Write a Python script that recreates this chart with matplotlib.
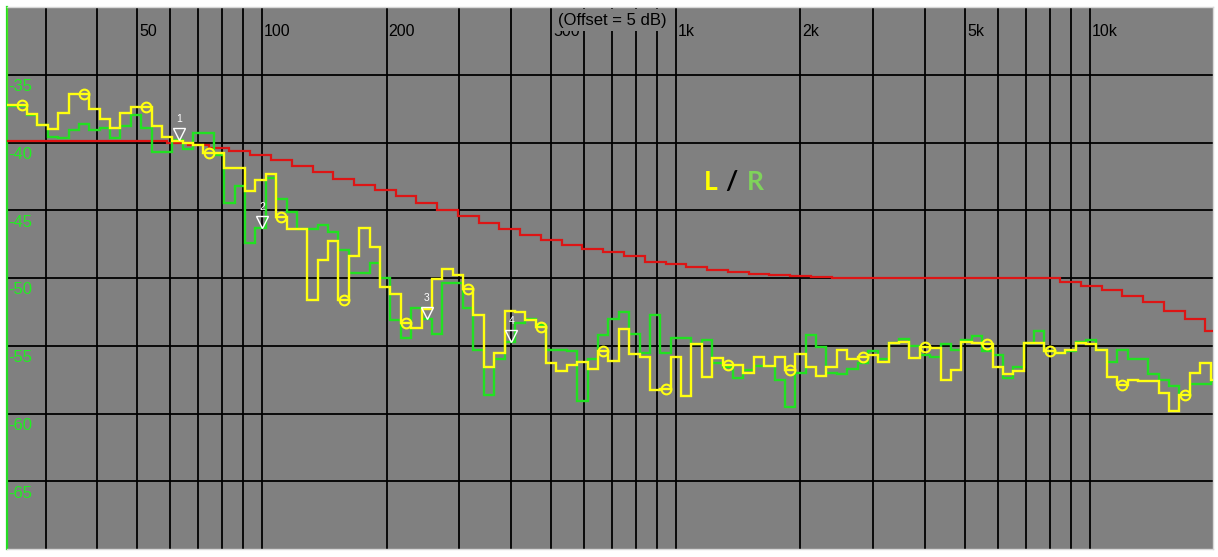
import numpy as np
import matplotlib
matplotlib.use('Agg')
import matplotlib.pyplot as plt
from matplotlib import transforms
from matplotlib.ticker import NullLocator

# ---------------- data ----------------
# 1/12-octave band numbers relative to 1 kHz (center = 1000 * 2**(n/12))
band_start = -64
left_db = [
    -37.2, -37.2, -37.9, -38.7, -39.0, -37.8, -36.4, -36.4, -37.5, -38.3,
    -38.9, -37.8, -37.4, -37.4, -38.8, -39.6, -39.9, -40.0, -40.2, -40.8,
    -40.8, -41.9, -41.9, -43.6, -42.8, -42.3, -45.5, -46.4, -46.4, -51.6,
    -48.7, -47.3, -51.6, -48.4, -46.3, -47.7, -50.7, -51.2, -53.3, -53.7,
    -52.3, -50.1, -49.3, -49.8, -50.8, -52.7, -56.6, -55.5, -52.4, -52.5,
    -53.1, -53.6, -56.3, -56.9, -56.4, -56.2, -56.7, -55.4, -56.1, -53.8,
    -55.6, -55.8, -58.3, -58.2, -55.8, -58.7, -54.9, -57.3, -55.9, -56.4,
    -56.4, -57.0, -55.8, -56.5, -55.8, -56.8, -55.6, -56.6, -57.2, -56.6,
    -55.3, -56.0, -55.8, -55.7, -56.2, -54.8, -54.7, -55.9, -55.1, -55.2,
    -57.5, -56.8, -54.7, -54.8, -54.9, -56.6, -57.1, -56.9, -54.8, -54.8,
    -55.4, -55.5, -55.3, -54.8, -54.9, -55.3, -57.3, -57.9, -57.5, -57.6,
    -57.6, -58.5, -59.8, -58.6, -57.0, -56.3, -57.5,
]
right_db = [
    -37.3, -37.3, -38.0, -38.7, -39.6, -39.7, -39.1, -38.6, -39.1, -38.9,
    -39.7, -38.8, -38.0, -38.9, -40.7, -40.7, -39.8, -40.5, -39.3, -39.3,
    -40.9, -44.5, -43.2, -47.4, -46.3, -42.6, -44.2, -45.1, -46.4, -46.4,
    -46.1, -46.6, -47.9, -49.6, -49.6, -48.9, -50.0, -53.1, -54.4, -52.2,
    -53.0, -54.1, -50.4, -50.4, -52.2, -55.3, -58.6, -56.0, -54.7, -53.3,
    -53.0, -53.5, -55.3, -55.3, -55.4, -59.1, -56.0, -54.2, -53.0, -52.5,
    -54.1, -55.5, -52.7, -55.5, -54.4, -54.4, -54.9, -54.6, -56.3, -56.6,
    -57.4, -56.8, -56.5, -56.5, -57.5, -59.5, -57.0, -54.2, -55.1, -57.0,
    -57.1, -56.7, -56.3, -55.4, -56.0, -54.8, -54.5, -55.0, -55.7, -55.8,
    -54.9, -55.3, -54.6, -54.3, -55.4, -55.7, -57.4, -56.6, -54.8, -53.9,
    -55.4, -55.5, -55.4, -54.7, -54.6, -55.3, -56.2, -55.3, -56.0, -56.0,
    -57.1, -57.5, -58.0, -58.6, -57.8, -57.8, -57.6,
]
# 1/6-octave target curve, band j centered at 1000 * 2**(j/6)
target_start = -32
target_db = [
    -39.9, -39.9, -39.9, -39.9, -39.9, -39.9, -39.9, -39.9,
    -40.05, -40.2, -40.4, -40.6, -40.9, -41.3, -41.7, -42.2, -42.7, -43.1,
    -43.5, -43.95, -44.45, -45.0, -45.45, -45.95, -46.4, -46.8, -47.2,
    -47.55, -47.85, -48.1, -48.4, -48.8, -49.0, -49.2, -49.4, -49.55,
    -49.7, -49.8, -49.85, -49.9,
    -50.0, -50.0, -50.0, -50.0, -50.0, -50.0, -50.0, -50.0, -50.0, -50.0, -50.0,
    -50.3, -50.6, -50.9, -51.3, -51.8, -52.4, -53.0, -53.9,
]
circle_bands = [-63, -57, -51, -45, -38, -32, -26, -20, -13, -7, -1, 5, 11,
                18, 24, 30, 36, 43, 49]
marker_freqs = [63, 100, 250, 400]
marker_labels = ['1', '2', '3', '4']

grid_freqs = [30, 40, 50, 60, 70, 80, 90, 100, 200, 300, 400, 500, 600, 700,
              800, 900, 1000, 2000, 3000, 4000, 5000, 6000, 7000, 8000, 9000,
              10000]
xlabel_freqs = [50, 100, 200, 500, 1000, 2000, 5000, 10000]
xlabel_texts = ['50', '100', '200', '500', '1k', '2k', '5k', '10k']
ylabel_values = [-35, -40, -45, -50, -55, -60, -65]

# ---------------- figure ----------------
W, H = 1218, 557
fig = plt.figure(figsize=(W / 100, H / 100), dpi=100)
fig.patch.set_facecolor('white')
ax = fig.add_axes([7 / W, 8 / H, 1206 / W, 542 / H])
ax.set_facecolor('#808080')
ax.set_xscale('log')
ax.set_xlim(24.2, 19850)
ax.set_ylim(-70, -30)

ax.set_xticks(grid_freqs)
ax.xaxis.set_minor_locator(NullLocator())
ax.set_yticks(ylabel_values)
ax.tick_params(length=0, labelbottom=False, labelleft=False)
ax.grid(True, color='black', lw=1.3)
ax.set_axisbelow(True)

for s in ['top', 'right', 'bottom']:
    ax.spines[s].set_color('#d8d8d8')
    ax.spines[s].set_linewidth(1.0)
ax.spines['left'].set_color('#22dd22')
ax.spines['left'].set_linewidth(1.6)

n = np.arange(band_start, band_start + len(left_db))
edges = 1000.0 * 2.0 ** ((np.arange(band_start, band_start + len(left_db) + 1) - 0.5) / 12)
centers = 1000.0 * 2.0 ** (n / 12)
jt = np.arange(target_start, target_start + len(target_db) + 1)
t_edges = 1000.0 * 2.0 ** ((2 * jt - 1) / 12)

ax.stairs(target_db, t_edges, color='#dd1515', lw=1.6, zorder=3)
ax.stairs(right_db, edges, color='#22e022', lw=1.7, zorder=4)
ax.stairs(left_db, edges, color='#ffff10', lw=1.7, zorder=5)

# yellow circle markers on the L curve
ci = [b - band_start for b in circle_bands]
ax.plot(centers[ci], np.array(left_db)[ci], 'o', ms=7, mfc='none',
        mec='#ffff10', mew=1.5, zorder=6)

# numbered triangle markers on the R curve
tri_tr = transforms.offset_copy(ax.transData, fig=fig, x=0, y=6, units='dots')
lab_tr = transforms.offset_copy(ax.transData, fig=fig, x=0, y=21, units='dots')
for f, lab in zip(marker_freqs, marker_labels):
    idx = int(round(12 * np.log2(f / 1000.0))) - band_start
    yv = right_db[idx]
    ax.plot([f], [yv], 'v', ms=8, mfc='none', mec='white', mew=1.0,
            transform=tri_tr, zorder=7)
    ax.text(f, yv, lab, color='white', fontsize=7.5, ha='center', va='center',
            family='Liberation Sans', transform=lab_tr, zorder=7)

# frequency labels at top
xl_tr = transforms.offset_copy(
    transforms.blended_transform_factory(ax.transData, ax.transAxes),
    fig=fig, x=2, y=-25, units='dots')
for f, t in zip(xlabel_freqs, xlabel_texts):
    ax.text(f, 1.0, t, ha='left', va='center', fontsize=11.5, color='black',
            family='Liberation Sans', transform=xl_tr, zorder=8)

# level labels on the left
yl_tr = transforms.offset_copy(
    transforms.blended_transform_factory(ax.transAxes, ax.transData),
    fig=fig, x=1, y=-12, units='dots')
for v in ylabel_values:
    ax.text(0.0, v, str(v), ha='left', va='center', fontsize=12,
            color='#22ee22', family='Liberation Sans', transform=yl_tr, zorder=8)

# offset caption (covers grid lines)
off_tr = transforms.offset_copy(ax.transAxes, fig=fig, x=0, y=-13, units='dots')
ax.text(0.502, 1.0, '(Offset = 5 dB)', ha='center', va='center', fontsize=12,
        color='black', family='Liberation Sans', transform=off_tr, zorder=9,
        bbox=dict(boxstyle='square,pad=0.2', fc='#808080', ec='none'))

# L / R legend text
ax.text(0.5837, 0.677, 'L', color='#ffff00', fontsize=19, fontweight='bold',
        family='Lato', ha='center', va='center', transform=ax.transAxes, zorder=8)
ax.text(0.6003, 0.677, '/', color='black', fontsize=19, fontweight='bold',
        family='Lato', ha='center', va='center', transform=ax.transAxes, zorder=8)
ax.text(0.6202, 0.677, 'R', color='#7fd35a', fontsize=19, fontweight='bold',
        family='Lato', ha='center', va='center', transform=ax.transAxes, zorder=8)

fig.savefig('out.png', dpi=100, facecolor='white')
